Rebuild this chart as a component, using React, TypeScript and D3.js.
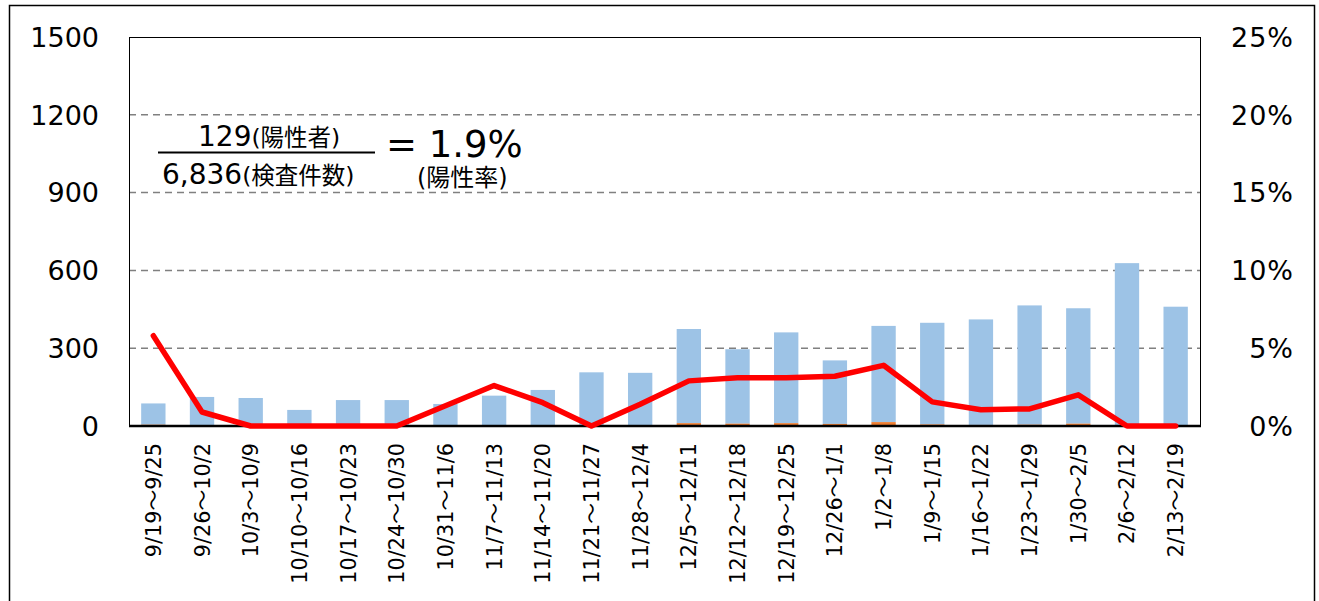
import { useEffect, useRef } from 'react';
import * as d3 from 'd3';

const weeks = [
  '9/19～9/25', '9/26～10/2', '10/3～10/9', '10/10～10/16', '10/17～10/23', '10/24～10/30',
  '10/31～11/6', '11/7～11/13', '11/14～11/20', '11/21～11/27', '11/28～12/4', '12/5～12/11',
  '12/12～12/18', '12/19～12/25', '12/26～1/1', '1/2～1/8', '1/9～1/15', '1/16～1/22',
  '1/23～1/29', '1/30～2/5', '2/6～2/12', '2/13～2/19',
];
// 検査件数
const tests = [87, 112, 108, 62, 100, 100, 85, 117, 139, 207, 205, 374, 296, 361, 253, 386, 398, 411, 465, 454, 628, 460];
// 陽性者
const positives = [5, 1, 0, 0, 0, 0, 1, 3, 2, 0, 3, 11, 9, 11, 8, 15, 6, 4, 5, 9, 0, 0];
// 陽性率 (%)
const rates = [5.8, 0.9, 0, 0, 0, 0, 1.3, 2.6, 1.5, 0, 1.4, 2.9, 3.1, 3.1, 3.2, 3.9, 1.55, 1.05, 1.1, 2.0, 0, 0];
const leftTicks = [0, 300, 600, 900, 1200, 1500];
const rightTicks = [0, 5, 10, 15, 20, 25];

const latin = '"DejaVu Sans", "Noto Sans CJK JP", sans-serif';

function App() {
  const svgRef = useRef<SVGSVGElement>(null);

  useEffect(() => {
    const width = 1319;
    const height = 601;
    const m = { left: 129, right: 1200, top: 37, bottom: 426 };

    const svg = d3.select(svgRef.current)
      .attr('width', width)
      .attr('height', height);
    svg.selectAll('*').remove();

    // 外枠
    svg.append('rect')
      .attr('x', 9.5).attr('y', 5.5)
      .attr('width', 1305).attr('height', 620)
      .attr('fill', 'none').attr('stroke', '#000').attr('stroke-width', 1.5);

    const x = d3.scaleBand().domain(weeks).range([m.left, m.right]).paddingInner(0.5).paddingOuter(0.25);
    const y = d3.scaleLinear().domain([0, 1500]).range([m.bottom, m.top]);
    const yr = d3.scaleLinear().domain([0, 25]).range([m.bottom, m.top]);

    // グリッド
    svg.append('g').selectAll('line')
      .data(leftTicks.filter(d => d > 0 && d < 1500))
      .enter().append('line')
      .attr('x1', m.left).attr('x2', m.right)
      .attr('y1', d => y(d)).attr('y2', d => y(d))
      .attr('stroke', '#808080').attr('stroke-width', 1.5)
      .attr('stroke-dasharray', '7,5');

    // 棒グラフ
    const bars = svg.append('g');
    bars.selectAll('.neg')
      .data(weeks)
      .enter().append('rect')
      .attr('x', d => x(d)!)
      .attr('width', x.bandwidth())
      .attr('y', (d, i) => y(tests[i]))
      .attr('height', (d, i) => y(positives[i]) - y(tests[i]))
      .attr('fill', '#9DC3E6');
    bars.selectAll('.pos')
      .data(weeks)
      .enter().append('rect')
      .attr('x', d => x(d)!)
      .attr('width', x.bandwidth())
      .attr('y', (d, i) => y(positives[i]))
      .attr('height', (d, i) => y(0) - y(positives[i]))
      .attr('fill', '#ED7D31');

    // 枠線
    svg.append('line')
      .attr('x1', m.left).attr('x2', m.right).attr('y1', m.top + 0.5).attr('y2', m.top + 0.5)
      .attr('stroke', '#000');
    svg.append('line')
      .attr('x1', m.right + 0.5).attr('x2', m.right + 0.5).attr('y1', m.top).attr('y2', m.bottom)
      .attr('stroke', '#000');
    svg.append('line')
      .attr('x1', m.left + 0.5).attr('x2', m.left + 0.5).attr('y1', m.top).attr('y2', m.bottom)
      .attr('stroke', '#000');
    svg.append('line')
      .attr('x1', m.left).attr('x2', m.right + 1).attr('y1', m.bottom).attr('y2', m.bottom)
      .attr('stroke', '#000').attr('stroke-width', 2.5);

    // 陽性率の折れ線
    const line = d3.line<number>()
      .x((d, i) => x(weeks[i])! + x.bandwidth() / 2)
      .y(d => yr(d));
    svg.append('path')
      .datum(rates)
      .attr('d', line)
      .attr('fill', 'none')
      .attr('stroke', '#FF0000')
      .attr('stroke-width', 5.5)
      .attr('stroke-linejoin', 'round')
      .attr('stroke-linecap', 'round');

    // 左軸ラベル
    svg.append('g').selectAll('text')
      .data(leftTicks)
      .enter().append('text')
      .attr('x', 99).attr('y', d => y(d))
      .attr('dy', '0.36em')
      .attr('text-anchor', 'end')
      .style('font-family', latin).style('font-size', '27px')
      .text(d => d);

    // 右軸ラベル
    svg.append('g').selectAll('text')
      .data(rightTicks)
      .enter().append('text')
      .attr('x', 1294).attr('y', d => yr(d))
      .attr('dy', '0.36em')
      .attr('text-anchor', 'end')
      .style('font-family', latin).style('font-size', '27px')
      .style('letter-spacing', '1px')
      .text(d => `${d}%`);

    // X軸ラベル
    svg.append('g').selectAll('text')
      .data(weeks)
      .enter().append('text')
      .attr('transform', d => `translate(${x(d)! + x.bandwidth() / 2},443) rotate(-90)`)
      .attr('dy', '0.36em')
      .attr('text-anchor', 'end')
      .style('font-family', latin).style('font-size', '20.8px')
      .text(d => d);

    // 陽性率の式
    const note = svg.append('g').style('font-family', latin).attr('fill', '#000');
    const t1 = note.append('text').attr('x', 198).attr('y', 146);
    t1.append('tspan').style('font-size', '28px').text('129');
    t1.append('tspan').style('font-size', '23.5px').text('(陽性者)');
    note.append('line')
      .attr('x1', 158).attr('x2', 375).attr('y1', 152.5).attr('y2', 152.5)
      .attr('stroke', '#000').attr('stroke-width', 2);
    const t2 = note.append('text').attr('x', 162).attr('y', 184);
    t2.append('tspan').style('font-size', '28px').text('6,836');
    t2.append('tspan').style('font-size', '23.5px').text('(検査件数)');
    note.append('text')
      .attr('x', 386).attr('y', 157)
      .style('font-size', '37px')
      .text('= 1.9%');
    note.append('text')
      .attr('x', 417).attr('y', 186)
      .style('font-size', '24px')
      .text('(陽性率)');

    return () => {
      svg.selectAll('*').remove();
    };
  }, []);

  return (
    <svg ref={svgRef} style={{ position: 'absolute', left: 0, top: 0, background: '#fff' }}></svg>
  );
}

export default App;
